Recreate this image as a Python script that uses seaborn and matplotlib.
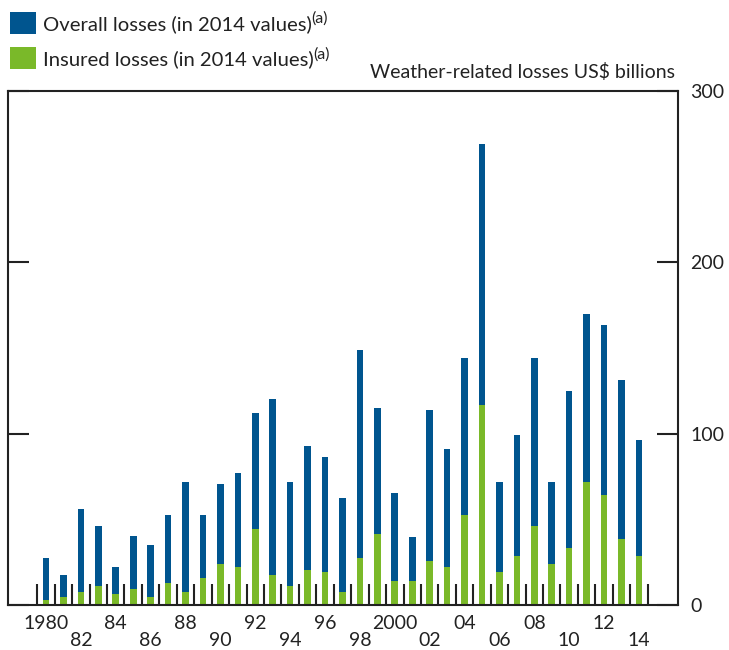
import numpy as np
import pandas as pd
import seaborn as sns
import matplotlib.pyplot as plt
from matplotlib.ticker import FixedLocator, NullFormatter

years = list(range(1980, 2015))
overall = [27.2, 17.5, 56.1, 46.4, 22.3, 40.0, 35.3, 52.8, 72.0, 52.8,
           70.5, 76.9, 112.0, 120.2, 72.0, 92.8, 86.4, 62.3, 148.9, 115.1,
           65.6, 39.8, 113.8, 91.2, 144.2, 269.3, 72.0, 99.2, 144.2, 72.0,
           125.0, 169.7, 163.5, 131.4, 96.1]
insured = [2.9, 4.9, 7.8, 11.1, 6.2, 9.5, 4.9, 12.6, 7.8, 15.9,
           23.9, 22.3, 44.6, 17.5, 11.1, 20.7, 19.0, 7.8, 27.2, 41.3,
           14.2, 14.2, 25.4, 22.3, 52.6, 116.9, 19.0, 28.5, 46.2, 23.9,
           33.4, 72.0, 64.1, 38.3, 28.5]
tick_years = list(range(1980, 2015, 2))
tick_labels = ["1980", "\n82", "84", "\n86", "88", "\n90", "92", "\n94", "96",
               "\n98", "2000", "\n02", "04", "\n06", "08", "\n10", "12", "\n14"]
yticks = [0, 100, 200, 300]
series_labels = ["Overall losses (in 2014 values)", "Insured losses (in 2014 values)"]

BLUE = "#00558F"
GREEN = "#7AB929"
INK = "#222222"


def main():
    sns.set_theme(style="white")
    plt.rcParams["font.family"] = ["Lato", "DejaVu Sans"]

    df = pd.DataFrame({"year": years, "overall": overall, "insured": insured})

    fig = plt.figure(figsize=(7.29, 6.5), dpi=100)
    ax = fig.add_axes([8 / 729, 45 / 650, 670 / 729, 514 / 650])

    sns.barplot(data=df, x="year", y="overall", native_scale=True, width=0.38,
                color=BLUE, saturation=1, linewidth=0, ax=ax,
                label=series_labels[0])
    sns.barplot(data=df, x="year", y="insured", native_scale=True, width=0.38,
                color=GREEN, saturation=1, linewidth=0, ax=ax,
                label=series_labels[1])
    if ax.get_legend() is not None:
        ax.get_legend().remove()

    ax.set_xlim(1977.82, 2016.24)
    ax.set_ylim(0, 300)
    ax.set_xlabel("")
    ax.set_ylabel("")

    for sp in ax.spines.values():
        sp.set_visible(True)
        sp.set_color(INK)
        sp.set_linewidth(1.5)

    # y axis: labels on right, inward ticks on both sides
    ax.set_yticks(yticks)
    ax.set_yticklabels([str(v) for v in yticks])
    ax.tick_params(axis="y", direction="in", left=True, right=True,
                   labelleft=False, labelright=True, length=15, width=1.5,
                   color=INK, labelsize=14, pad=9, labelcolor=INK)

    # x axis: separators between years, labels on even years
    ax.xaxis.set_major_locator(FixedLocator(np.arange(1979.5, 2015, 1.0)))
    ax.xaxis.set_major_formatter(NullFormatter())
    ax.xaxis.set_minor_locator(FixedLocator(tick_years))
    ax.set_xticklabels(tick_labels, minor=True)
    ax.tick_params(axis="x", which="major", direction="in", bottom=True,
                   length=15, width=1.5, color=INK)
    ax.tick_params(axis="x", which="minor", bottom=True, length=0,
                   labelsize=14, pad=7, labelcolor=INK)
    for t in ax.get_xticklabels(minor=True):
        t.set_linespacing(1.0)

    handles, labels = ax.get_legend_handles_labels()
    leg = fig.legend(handles, labels, loc="upper left",
                     bbox_to_anchor=(0.008, 0.988), frameon=False, fontsize=14.6,
                     handlelength=1.3, handleheight=1.3, handletextpad=0.35,
                     labelspacing=0.65, borderaxespad=0, borderpad=0.2,
                     labelcolor=INK)

    fig.text(675 / 729, 1 - 72 / 650, "Weather-related losses US$ billions",
             ha="right", va="center", fontsize=14, color=INK)

    # superscript note markers after the legend labels
    fig.canvas.draw()
    renderer = fig.canvas.get_renderer()
    inv = fig.transFigure.inverted()
    for txt in leg.get_texts():
        bb = txt.get_window_extent(renderer)
        x0, y1 = inv.transform((bb.x1 - 1, bb.y1 + 3))
        fig.text(x0, y1, "(a)", ha="left", va="top", fontsize=11.5, color=INK)

    fig.savefig("out.png", dpi=100)


if __name__ == "__main__":
    main()
